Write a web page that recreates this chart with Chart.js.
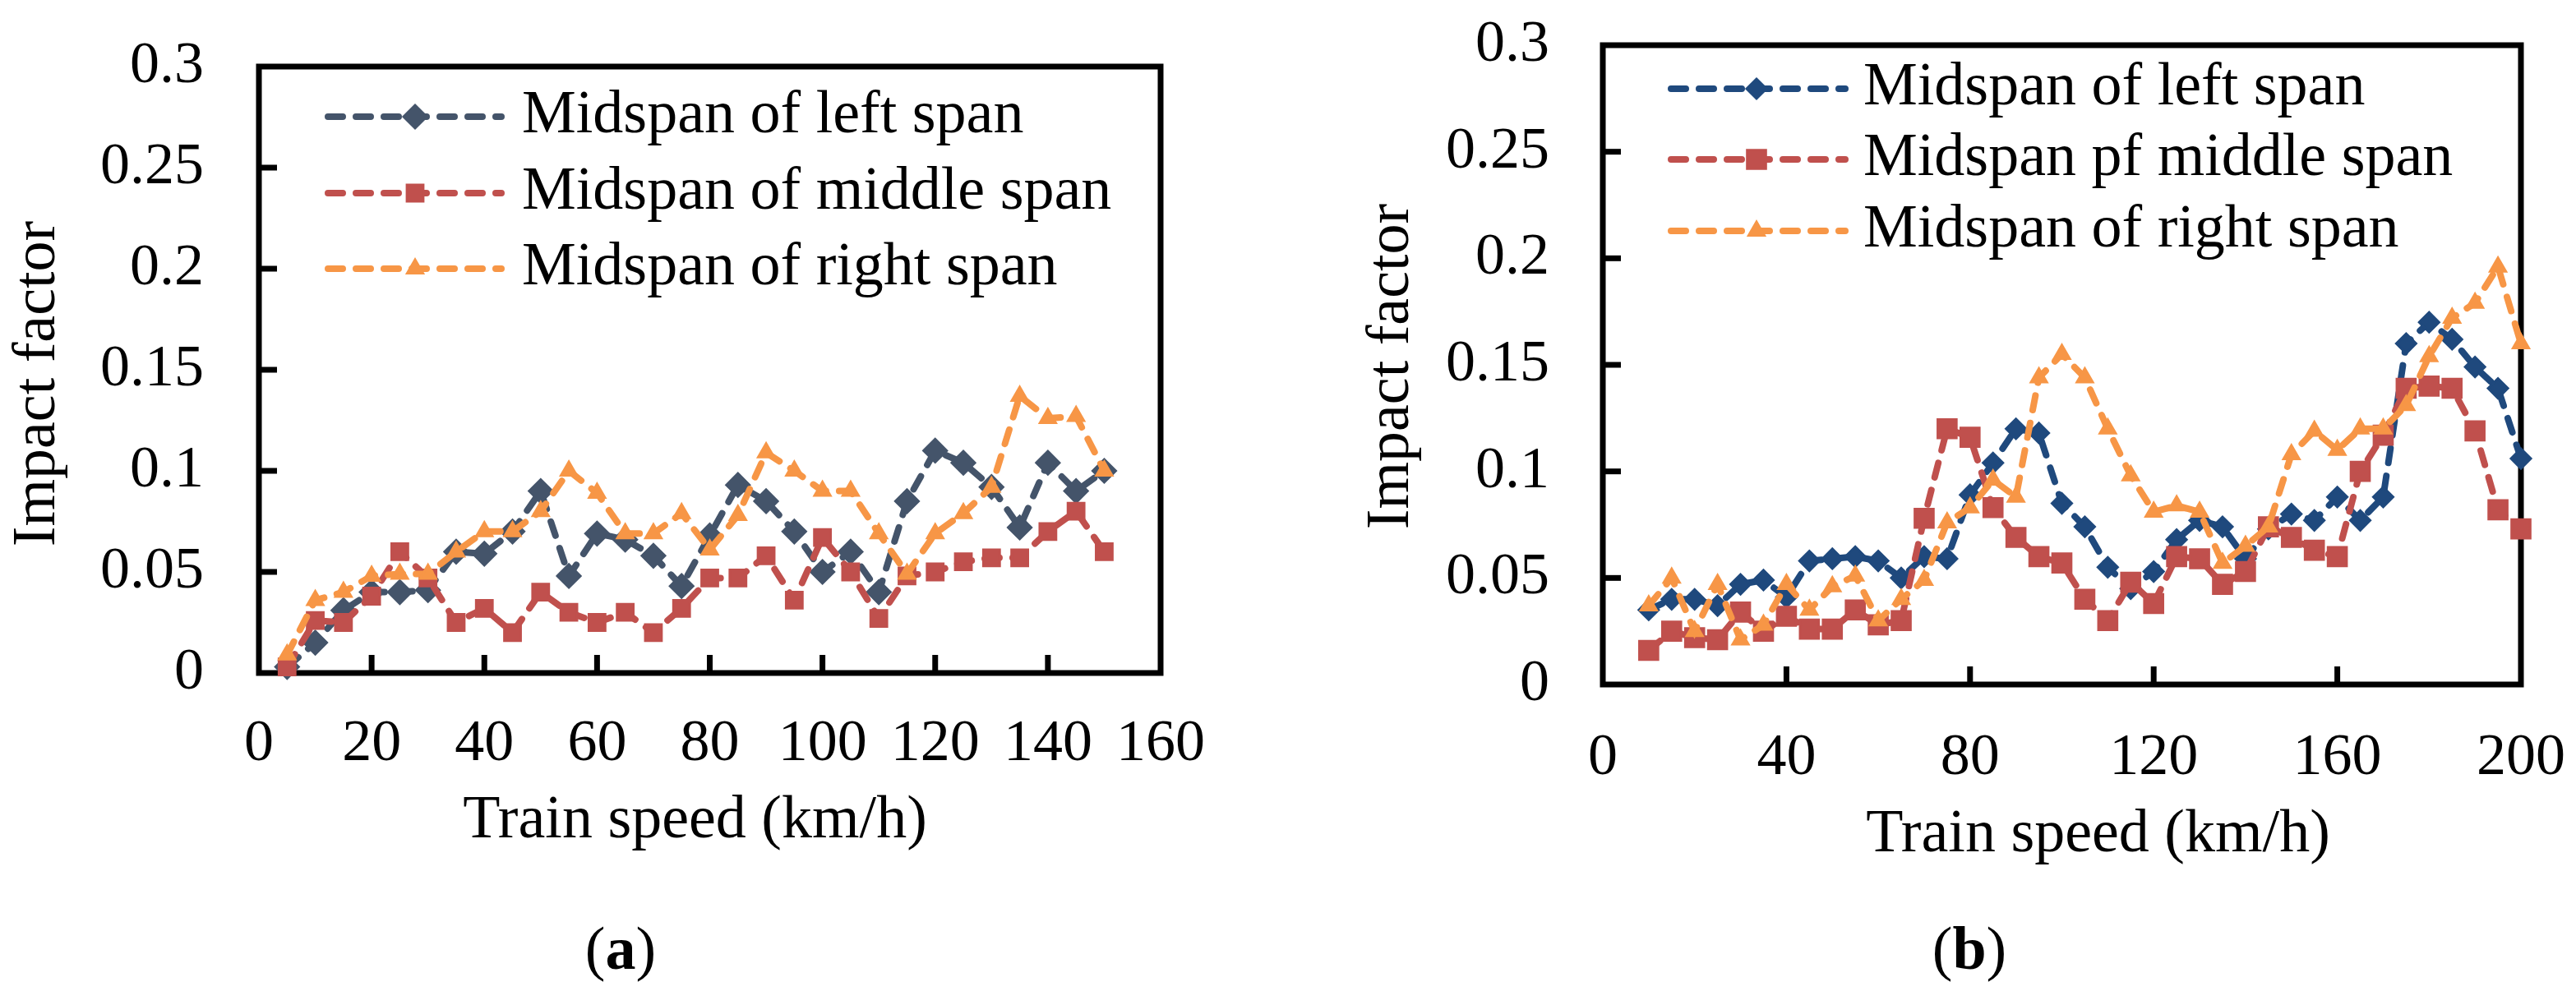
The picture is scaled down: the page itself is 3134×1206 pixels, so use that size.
<!DOCTYPE html>
<html>
<head>
<meta charset="utf-8">
<script src="https://cdn.jsdelivr.net/npm/chart.js@4.4.1/dist/chart.umd.min.js"></script>
<style>
  html, body { margin: 0; padding: 0; background: #fff; }
  body { width: 3134px; height: 1206px; position: relative; overflow: hidden;
         font-family: "Liberation Serif", "Times New Roman", serif; }
  canvas { position: absolute; top: 0; }
  .cap { position: absolute; font-size: 74px; line-height: 1; transform: translate(-50%, -50%); }
</style>
</head>
<body>
<canvas id="chartA" width="1567" height="1206" style="left:0"></canvas>
<canvas id="chartB" width="1567" height="1206" style="left:1567px"></canvas>
<div class="cap" style="left:755px;top:1154px">(<b>a</b>)</div>
<div class="cap" style="left:2396px;top:1154px">(<b>b</b>)</div>
<script>
// panel (a)
const speedA = [5, 10, 15, 20, 25, 30, 35, 40, 45, 50, 55, 60, 65, 70, 75, 80, 85, 90, 95, 100,
  105, 110, 115, 120, 125, 130, 135, 140, 145, 150];
const leftA = [0.003, 0.015, 0.031, 0.040, 0.040, 0.041, 0.060, 0.059, 0.070, 0.090, 0.048, 0.069,
  0.066, 0.058, 0.043, 0.068, 0.093, 0.085, 0.070, 0.050, 0.060, 0.040, 0.085, 0.110, 0.104, 0.092,
  0.072, 0.104, 0.090, 0.100];
const middleA = [0.003, 0.026, 0.025, 0.038, 0.060, 0.047, 0.025, 0.032, 0.020, 0.040, 0.030, 0.025,
  0.030, 0.020, 0.032, 0.047, 0.047, 0.058, 0.036, 0.067, 0.050, 0.027, 0.048, 0.050, 0.055, 0.057,
  0.057, 0.070, 0.080, 0.060];
const rightA = [0.009, 0.036, 0.040, 0.048, 0.049, 0.049, 0.060, 0.070, 0.070, 0.080, 0.100, 0.089,
  0.069, 0.069, 0.079, 0.061, 0.078, 0.109, 0.100, 0.090, 0.090, 0.069, 0.049, 0.069, 0.079, 0.092,
  0.137, 0.126, 0.127, 0.100];
const namesA = ['Midspan of left span', 'Midspan of middle span', 'Midspan of right span'];
const xTicksA = [0, 20, 40, 60, 80, 100, 120, 140, 160];

// panel (b)
const speedB = [10, 15, 20, 25, 30, 35, 40, 45, 50, 55, 60, 65, 70, 75, 80, 85, 90, 95, 100, 105,
  110, 115, 120, 125, 130, 135, 140, 145, 150, 155, 160, 165, 170, 175, 180, 185, 190, 195, 200];
const leftB = [0.035, 0.040, 0.040, 0.037, 0.047, 0.049, 0.041, 0.058, 0.059, 0.060, 0.058, 0.050,
  0.060, 0.059, 0.089, 0.104, 0.120, 0.118, 0.085, 0.074, 0.055, 0.045, 0.053, 0.068, 0.077, 0.074,
  0.059, 0.073, 0.080, 0.077, 0.088, 0.077, 0.088, 0.160, 0.170, 0.162, 0.149, 0.139, 0.106];
const middleB = [0.016, 0.025, 0.022, 0.021, 0.034, 0.025, 0.032, 0.026, 0.026, 0.035, 0.028, 0.030,
  0.078, 0.120, 0.116, 0.083, 0.069, 0.060, 0.057, 0.040, 0.030, 0.048, 0.038, 0.060, 0.059, 0.047,
  0.053, 0.074, 0.069, 0.063, 0.060, 0.100, 0.117, 0.139, 0.140, 0.139, 0.119, 0.082, 0.073];
const rightB = [0.037, 0.050, 0.025, 0.047, 0.021, 0.028, 0.047, 0.035, 0.046, 0.051, 0.030, 0.040,
  0.049, 0.076, 0.083, 0.096, 0.088, 0.144, 0.155, 0.144, 0.120, 0.098, 0.081, 0.084, 0.081, 0.057,
  0.065, 0.074, 0.108, 0.119, 0.110, 0.120, 0.120, 0.131, 0.154, 0.172, 0.179, 0.196, 0.160];
const namesB = ['Midspan of left span', 'Midspan pf middle span', 'Midspan of right span'];
const xTicksB = [0, 40, 80, 120, 160, 200];

const yTicks = [0, 0.05, 0.1, 0.15, 0.2, 0.25, 0.3];

const FONT = '"Liberation Serif", "Times New Roman", serif';
Chart.defaults.font.family = FONT;
Chart.defaults.color = '#000';

function points(xs, ys) {
  return xs.map((x, i) => ({ x: x, y: ys[i] }));
}

// box round the plot area, with tick marks pointing inward
const framePlugin = {
  id: 'frame',
  beforeDatasetsDraw(chart, args, opts) {
    const { ctx, chartArea: a, scales: { x, y } } = chart;
    ctx.save();
    ctx.strokeStyle = '#000';
    ctx.lineWidth = opts.width;
    ctx.lineCap = 'butt';
    x.ticks.forEach(t => {
      const px = x.getPixelForValue(t.value);
      if (px > a.left + 2 && px < a.right - 2) {
        ctx.beginPath();
        ctx.moveTo(px, a.bottom);
        ctx.lineTo(px, a.bottom - opts.tick);
        ctx.stroke();
      }
    });
    y.ticks.forEach(t => {
      const py = y.getPixelForValue(t.value);
      if (py > a.top + 2 && py < a.bottom - 2) {
        ctx.beginPath();
        ctx.moveTo(a.left, py);
        ctx.lineTo(a.left + opts.tick, py);
        ctx.stroke();
      }
    });
    ctx.strokeRect(a.left, a.top, a.right - a.left, a.bottom - a.top);
    ctx.restore();
  }
};

// nudge the axis titles off the plot centre, as in the original figure
const titleShiftPlugin = {
  id: 'titleShift',
  afterLayout(chart, args, opts) {
    ['x', 'y'].forEach(id => {
      const scale = chart.scales[id];
      const shift = opts[id];
      if (!scale || !shift || scale._shifted) return;
      const orig = scale.drawTitle;
      scale.drawTitle = function () {
        this.ctx.save();
        this.ctx.translate(shift[0], shift[1]);
        orig.apply(this, arguments);
        this.ctx.restore();
      };
      scale._shifted = true;
    });
  }
};

// legend inside the plot: dashed sample line with marker, then the label
const keyPlugin = {
  id: 'key',
  afterDatasetsDraw(chart, args, opts) {
    const ctx = chart.ctx;
    chart.data.datasets.forEach((ds, i) => {
      const yy = opts.rows[i];
      ctx.save();
      ctx.strokeStyle = ds.borderColor;
      ctx.lineWidth = ds.borderWidth;
      ctx.lineCap = 'round';
      ctx.setLineDash(ds.borderDash);
      ctx.beginPath();
      ctx.moveTo(opts.x0, yy);
      ctx.lineTo(opts.x1, yy);
      ctx.stroke();
      ctx.setLineDash([]);
      ctx.fillStyle = ds.pointBackgroundColor;
      ctx.strokeStyle = ds.pointBorderColor;
      ctx.lineWidth = ds.pointBorderWidth;
      Chart.helpers.drawPoint(ctx, {
        pointStyle: ds.pointStyle, radius: ds.pointRadius,
        borderWidth: ds.pointBorderWidth, rotation: 0
      }, opts.xm, yy);
      ctx.fillStyle = '#000';
      ctx.font = '74px ' + FONT;
      ctx.textAlign = 'left';
      ctx.textBaseline = 'middle';
      ctx.fillText(ds.label, opts.xt, yy);
      ctx.restore();
    });
  }
};

// later series sit on top, as in the original
function series(label, xs, ys, color, style, radius, order) {
  return {
    label: label,
    data: points(xs, ys),
    order: order,
    borderColor: color,
    backgroundColor: color,
    borderWidth: 8,
    borderDash: [18, 16],
    borderCapStyle: 'round',
    pointStyle: style,
    pointRadius: radius,
    pointBorderWidth: 3,
    pointBackgroundColor: color,
    pointBorderColor: color,
    tension: 0,
    clip: false
  };
}

function drawPanel(id, datasets, cfg) {
  // eslint-disable-next-line no-new
  new Chart(document.getElementById(id), {
    type: 'line',
    data: { datasets: datasets },
    options: {
      responsive: false,
      animation: false,
      devicePixelRatio: 1,
      layout: { padding: cfg.padding, autoPadding: false },
      plugins: {
        legend: { display: false },
        tooltip: { enabled: false },
        frame: { width: 7, tick: 22 },
        titleShift: cfg.shift,
        key: cfg.key
      },
      scales: {
        x: {
          type: 'linear',
          min: 0,
          max: cfg.xTicks[cfg.xTicks.length - 1],
          afterBuildTicks: s => { s.ticks = cfg.xTicks.map(v => ({ value: v })); },
          afterFit: s => { s.height = cfg.xHeight; },
          // the tick length only spaces the labels; the grid itself is hidden
          grid: { display: false, drawTicks: true, tickLength: cfg.xPad },
          border: { display: false },
          ticks: { font: { size: 72 }, padding: 0, maxRotation: 0, autoSkip: false, color: '#000' },
          title: {
            display: true, text: 'Train speed (km/h)', color: '#000',
            font: { size: 74 }, padding: { top: 0, bottom: cfg.xTitlePad }
          }
        },
        y: {
          min: 0,
          max: 0.3,
          afterBuildTicks: s => { s.ticks = yTicks.map(v => ({ value: v })); },
          afterFit: s => { s.width = cfg.yWidth; },
          grid: { display: false, drawTicks: true, tickLength: cfg.yPad },
          border: { display: false },
          ticks: {
            font: { size: 72 }, padding: 0, color: '#000',
            callback: v => String(+v.toFixed(2))
          },
          title: {
            display: true, text: 'Impact factor', color: '#000',
            font: { size: 74 }, padding: { top: cfg.yTitlePad, bottom: 0 }
          }
        }
      }
    },
    plugins: [framePlugin, titleShiftPlugin, keyPlugin]
  });
}

drawPanel('chartA', [
  series(namesA[0], speedA, leftA, '#44546A', 'rectRot', 14, 2),
  series(namesA[1], speedA, middleA, '#C0504D', 'rect', 14, 1),
  series(namesA[2], speedA, rightA, '#F79646', 'triangle', 11, 0)
], {
  padding: { left: 0, top: 81, right: 155, bottom: 96 },
  xTicks: xTicksA, xHeight: 291, xPad: 44, xTitlePad: 66,
  yWidth: 315, yPad: 67, yTitlePad: 2,
  shift: { x: [-18, 0], y: [0, 17] },
  key: { rows: [142, 235, 327], x0: 399, x1: 610, xm: 505, xt: 635 }
});

drawPanel('chartB', [
  series(namesB[0], speedB, leftB, '#1F497D', 'rectRot', 12, 2),
  series(namesB[1], speedB, middleB, '#C0504D', 'rect', 16, 1),
  series(namesB[2], speedB, rightB, '#F79646', 'triangle', 11, 0)
], {
  padding: { left: 0, top: 55, right: 67, bottom: 96 },
  xTicks: xTicksB, xHeight: 277, xPad: 47, xTitlePad: 49,
  yWidth: 383, yPad: 65, yTitlePad: 82,
  shift: { x: [44, 0], y: [0, 2] },
  key: { rows: [108, 194, 281], x0: 466, x1: 678, xm: 570, xt: 700 }
});
</script>
</body>
</html>
